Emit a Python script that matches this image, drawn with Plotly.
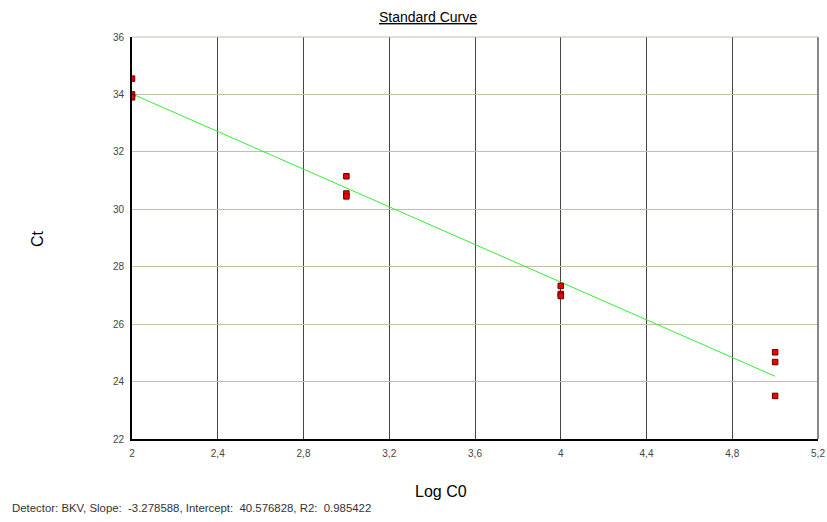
import plotly.graph_objects as go

# Data
log_c0 = [2, 2, 2, 3, 3, 3, 4, 4, 4, 5, 5, 5]
ct = [34.55, 34.0, 33.9, 31.15, 30.55, 30.45, 27.33, 27.05, 26.98, 25.02, 24.68, 23.5]
slope = -3.278588
intercept = 40.576828
r2 = 0.985422
fit_x = [2, 5]
fit_y = [intercept + slope * x for x in fit_x]

x_tickvals = [2, 2.4, 2.8, 3.2, 3.6, 4, 4.4, 4.8, 5.2]
x_ticktext = ["2", "2,4", "2,8", "3,2", "3,6", "4", "4,4", "4,8", "5,2"]
y_tickvals = [22, 24, 26, 28, 30, 32, 34, 36]

fig = go.Figure()
fig.add_trace(go.Scatter(x=fit_x, y=fit_y, mode="lines",
                         line=dict(color="#33ee33", width=1), hoverinfo="skip"))
fig.add_trace(go.Scatter(x=log_c0, y=ct, mode="markers",
                         marker=dict(symbol="square", size=5.5, color="#ee0000",
                                     line=dict(color="#600000", width=1))))

fig.update_layout(
    width=827, height=522,
    margin=dict(l=132, r=9, t=37, b=83),
    plot_bgcolor="white", paper_bgcolor="white",
    showlegend=False,
    font=dict(family="Liberation Sans, Arial, sans-serif", color="#333333"),
    xaxis=dict(range=[2, 5.2], tickvals=x_tickvals, ticktext=x_ticktext,
               showgrid=True, gridcolor="#444444", gridwidth=1,
               showline=True, linecolor="black", linewidth=2, automargin=False,
               zeroline=False, ticks="", tickfont=dict(size=10, color="#444444"),
               ticklabelstandoff=4),
    yaxis=dict(range=[22, 36], tickvals=y_tickvals,
               showgrid=True, gridcolor="#c8bea8", gridwidth=1,
               showline=True, linecolor="black", linewidth=2, automargin=False,
               zeroline=False, ticks="", tickfont=dict(size=10, color="#444444"),
               ticklabelstandoff=4),
    shapes=[
        dict(type="line", xref="paper", yref="paper", x0=1, x1=1, y0=0, y1=1,
             line=dict(color="#888888", width=2)),
        dict(type="line", xref="paper", yref="paper", x0=0, x1=1, y0=1, y1=1,
             line=dict(color="#c8bea8", width=1)),
    ],
    annotations=[
        dict(text="<u>Standard Curve</u>", xref="paper", yref="paper",
             x=(428 - 132) / 686, y=1, yshift=20, xanchor="center", yanchor="middle",
             showarrow=False, font=dict(size=14, color="black")),
        dict(text="Ct", xref="paper", yref="paper", x=-(132 - 37) / 686, y=0.5,
             xanchor="center", yanchor="middle", textangle=-90, showarrow=False,
             font=dict(size=16, color="black")),
        dict(text="Log C0", xref="paper", yref="paper", x=(441 - 132) / 686, y=0,
             yshift=-52, xanchor="center", yanchor="middle", showarrow=False,
             font=dict(size=16, color="black")),
        dict(text=f"Detector: BKV, Slope:  {slope:.6f}, Intercept:  {intercept:.6f}, R2:  {r2:.6f}",
             xref="paper", yref="paper", x=-(132 - 10) / 686, y=0, yshift=-69,
             xanchor="left", yanchor="middle", showarrow=False,
             font=dict(size=11.4, color="#333333")),
    ],
)

fig.write_html("out.html", config={"displayModeBar": False},
               post_script="document.body.style.margin='0';")
